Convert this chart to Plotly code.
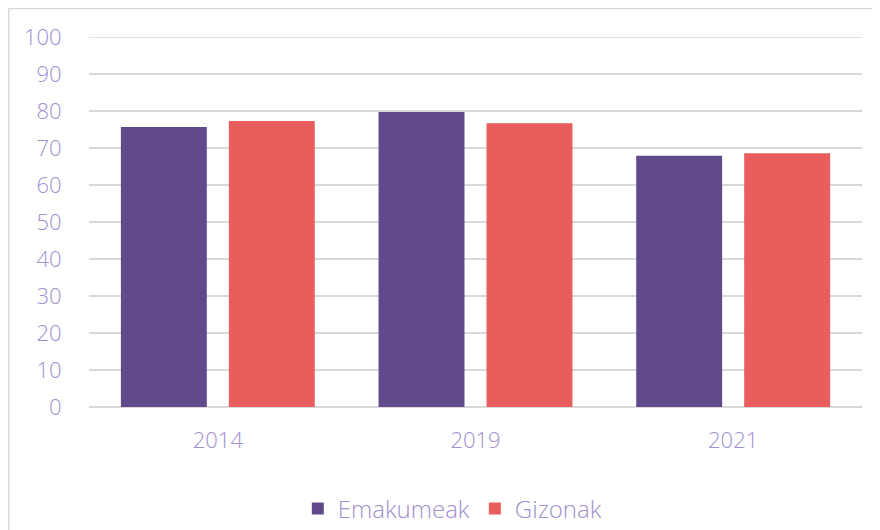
import plotly.graph_objects as go

years = ['2014', '2019', '2021']
emakumeak = [75.7, 79.7, 67.9]
gizonak = [77.3, 76.7, 68.6]

purple = '#604a8b'
red = '#e95e5c'
text_col = '#a18fcf'
grid_col = '#d9d9d9'
font_name = 'Open Sans'

fig = go.Figure()
fig.add_trace(go.Bar(x=years, y=emakumeak, name='Emakumeak', marker=dict(color=purple, line=dict(width=0))))
fig.add_trace(go.Bar(x=years, y=gizonak, name='Gizonak', marker=dict(color=red, line=dict(width=0))))

# chart frame: only the top and left edges show inside the window
frame = dict(color=grid_col, width=1.5)

# the page has an 8px body margin, so everything lands 8px right and down;
# keep the figure inside the window so no scrollbar appears
fig.update_layout(
    width=872, height=522,
    margin=dict(l=81, r=18, t=29, b=123),
    barmode='group', bargap=0.162, bargroupgap=0.204,
    paper_bgcolor='white', plot_bgcolor='white',
    font=dict(family=font_name, color=text_col, size=22, weight=300),
    showlegend=True,
    legend=dict(orientation='h', x=0.47, xanchor='center',
                yref='container', y=1 - 501 / 522, yanchor='middle',
                font=dict(family=font_name, size=24, color=text_col, weight=300),
                itemwidth=30, traceorder='normal'),
    shapes=[dict(type='line', xref='paper', yref='paper', x0=-0.1038, x1=-0.1038, y0=-0.6, y1=1.077,
                 line=frame, layer='below'),
            dict(type='line', xref='paper', yref='paper', x0=-0.1038, x1=1.1, y0=1.077, y1=1.077,
                 line=frame, layer='below'),
            dict(type='line', xref='paper', yref='y', x0=0, x1=1, y0=100, y1=100,
                 line=frame, layer='below')],
)
fig.update_yaxes(range=[0, 100], dtick=10, showgrid=True, gridcolor=grid_col, gridwidth=1.5,
                 zeroline=True, zerolinecolor=grid_col, zerolinewidth=1.5,
                 ticks='outside', ticklen=22, tickcolor='rgba(0,0,0,0)', showline=False,
                 automargin=False,
                 tickfont=dict(family=font_name, size=22, color=text_col, weight=300))
fig.update_xaxes(ticks='outside', ticklen=14, tickcolor='rgba(0,0,0,0)', showline=False,
                 automargin=False,
                 tickfont=dict(family=font_name, size=22, color=text_col, weight=300))

fig.write_html('out.html')
